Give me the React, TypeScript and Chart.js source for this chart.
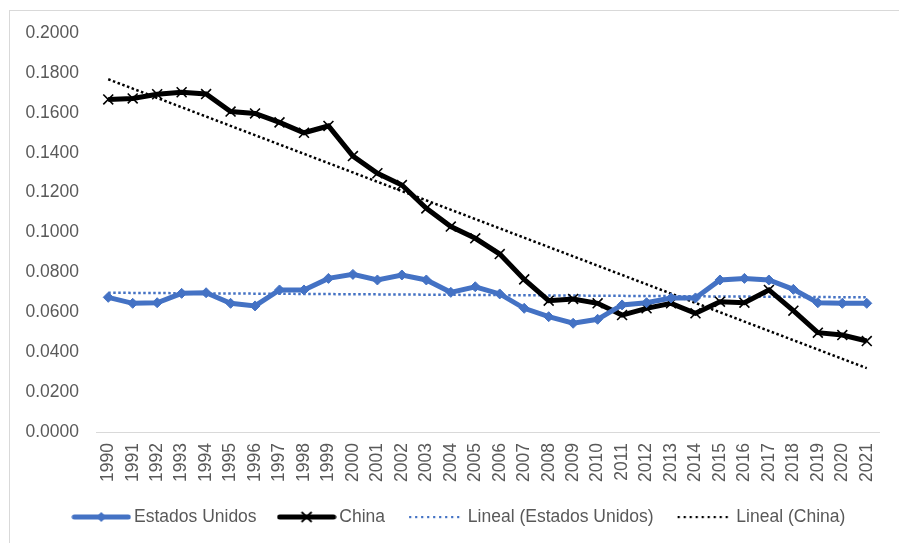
import React, { useEffect, useRef } from 'react';
import { Chart, registerables } from 'chart.js';

Chart.register(...registerables);

const years = [
  '1990', '1991', '1992', '1993', '1994', '1995', '1996', '1997',
  '1998', '1999', '2000', '2001', '2002', '2003', '2004', '2005',
  '2006', '2007', '2008', '2009', '2010', '2011', '2012', '2013',
  '2014', '2015', '2016', '2017', '2018', '2019', '2020', '2021',
];

const estadosUnidos = [
  0.0675, 0.0645, 0.0648, 0.0695, 0.0698, 0.0645, 0.0632, 0.0712,
  0.0712, 0.0770, 0.0790, 0.0762, 0.0787, 0.0762, 0.0700, 0.0728,
  0.0692, 0.0620, 0.0578, 0.0545, 0.0565, 0.0637, 0.0648, 0.0672,
  0.0672, 0.0762, 0.0770, 0.0762, 0.0715, 0.0648, 0.0645, 0.0645,
];

const china = [
  0.1667, 0.1672, 0.1693, 0.1703, 0.1694, 0.1606, 0.1597, 0.1552,
  0.1500, 0.1534, 0.1383, 0.1297, 0.1238, 0.1121, 0.1030, 0.0971,
  0.0892, 0.0765, 0.0658, 0.0667, 0.0645, 0.0586, 0.0620, 0.0645,
  0.0595, 0.0653, 0.0648, 0.0712, 0.0608, 0.0498, 0.0486, 0.0456,
];

// Trendline endpoints (first year, last year)
const linealEstadosUnidos = [0.0698, 0.0675];
const linealChina = [0.1768, 0.0320];

const yTicks = { min: 0, max: 0.2, step: 0.02 };

const BLUE = '#4472C4';
const BLACK = '#000000';
const TEXT = '#595959';
const AXIS = '#D9D9D9';
const FONT = "'Liberation Sans', Arial, sans-serif";

function endpoints(pair: number[]) {
  const last = years.length - 1;
  return years.map((_, i) => (i === 0 ? pair[0] : i === last ? pair[1] : null));
}

function makeSample(kind: 'us' | 'cn' | 'tus' | 'tcn'): HTMLCanvasElement {
  const c = document.createElement('canvas');
  c.width = 60;
  c.height = 16;
  const ctx = c.getContext('2d')!;
  const y = 8;
  if (kind === 'us' || kind === 'cn') {
    ctx.strokeStyle = kind === 'us' ? BLUE : BLACK;
    ctx.lineWidth = 5;
    ctx.lineCap = 'round';
    ctx.beginPath();
    ctx.moveTo(3, y);
    ctx.lineTo(57, y);
    ctx.stroke();
    if (kind === 'us') {
      ctx.fillStyle = BLUE;
      ctx.beginPath();
      ctx.moveTo(30, y - 5);
      ctx.lineTo(35, y);
      ctx.lineTo(30, y + 5);
      ctx.lineTo(25, y);
      ctx.closePath();
      ctx.fill();
    } else {
      ctx.lineWidth = 1.8;
      ctx.lineCap = 'butt';
      ctx.beginPath();
      ctx.moveTo(25, y - 5);
      ctx.lineTo(35, y + 5);
      ctx.moveTo(35, y - 5);
      ctx.lineTo(25, y + 5);
      ctx.stroke();
    }
  } else {
    ctx.fillStyle = kind === 'tus' ? BLUE : BLACK;
    for (let x = 4; x < 58; x += 6) {
      ctx.fillRect(x, y - 1, 2.2, 2.2);
    }
  }
  return c;
}

const legendShift = {
  id: 'legendShift',
  afterLayout(chart: any) {
    const l = chart.legend;
    if (l) {
      l.left += 14;
      l.right += 14;
    }
  },
};

export default function App() {
  const ref = useRef<HTMLCanvasElement | null>(null);

  useEffect(() => {
    if (!ref.current) return;
    const samples = {
      us: makeSample('us'),
      cn: makeSample('cn'),
      tus: makeSample('tus'),
      tcn: makeSample('tcn'),
    };
    const chart = new Chart(ref.current, {
      type: 'line',
      data: {
        labels: years,
        datasets: [
          {
            label: 'Estados Unidos',
            data: estadosUnidos,
            borderColor: BLUE,
            backgroundColor: BLUE,
            borderWidth: 5,
            tension: 0,
            pointStyle: 'rectRot',
            pointRadius: 5,
            pointBackgroundColor: BLUE,
            pointBorderColor: BLUE,
            pointBorderWidth: 1,
          },
          {
            label: 'China',
            data: china,
            borderColor: BLACK,
            backgroundColor: BLACK,
            borderWidth: 5,
            tension: 0,
            pointStyle: 'crossRot',
            pointRadius: 7,
            pointBorderColor: BLACK,
            pointBorderWidth: 1.6,
          },
          {
            label: 'Lineal (Estados Unidos)',
            data: endpoints(linealEstadosUnidos),
            borderColor: BLUE,
            borderWidth: 2.5,
            borderDash: [2.5, 2.5],
            spanGaps: true,
            pointRadius: 0,
          },
          {
            label: 'Lineal (China)',
            data: endpoints(linealChina),
            borderColor: BLACK,
            borderWidth: 2.5,
            borderDash: [2.5, 2.5],
            spanGaps: true,
            pointRadius: 0,
          },
        ],
      },
      options: {
        responsive: false,
        animation: false,
        devicePixelRatio: 1,
        layout: { padding: { left: 10, right: 14.4, top: 33, bottom: 7.25 } },
        scales: {
          x: {
            type: 'category',
            offset: true,
            grid: { display: false, drawTicks: false },
            border: { display: true, color: AXIS, width: 1 },
            ticks: {
              autoSkip: false,
              maxRotation: 90,
              minRotation: 90,
              padding: 11,
              color: TEXT,
              font: { family: FONT, size: 17.5 },
            },
            afterFit: (scale: any) => {
              scale.height = 50.25;
            },
          },
          y: {
            min: yTicks.min,
            max: yTicks.max,
            grid: { display: false, drawTicks: false },
            border: { display: false },
            ticks: {
              stepSize: yTicks.step,
              padding: 17,
              color: TEXT,
              font: { family: FONT, size: 17.5 },
              callback: (v: any) => Number(v).toFixed(4),
            },
            afterFit: (scale: any) => {
              scale.width = 86;
            },
          },
        },
        plugins: {
          tooltip: { enabled: false },
          legend: {
            position: 'bottom',
            align: 'center',
            labels: {
              usePointStyle: true,
              pointStyleWidth: 48,
              padding: 26,
              color: TEXT,
              font: { family: FONT, size: 17.5 },
              generateLabels: (ch: any) => {
                const imgs = [samples.us, samples.cn, samples.tus, samples.tcn];
                return ch.data.datasets.map((ds: any, i: number) => ({
                  text: ds.label,
                  fillStyle: 'transparent',
                  strokeStyle: 'transparent',
                  lineWidth: 0,
                  pointStyle: imgs[i],
                  fontColor: TEXT,
                  hidden: false,
                  datasetIndex: i,
                }));
              },
            },
          },
        },
      },
      plugins: [legendShift],
    });
    return () => chart.destroy();
  }, []);

  return (
    <div style={{ position: 'fixed', left: 0, top: 0, width: 899, height: 543, background: '#fff', overflow: 'hidden' }}>
      <div
        style={{
          position: 'absolute',
          left: 9,
          top: 10,
          width: 900,
          height: 560,
          border: '1px solid #D9D9D9',
          boxSizing: 'border-box',
        }}
      />
      <canvas ref={ref} width={899} height={543} style={{ position: 'absolute', left: 0, top: 0, width: 899, height: 543 }} />
    </div>
  );
}
